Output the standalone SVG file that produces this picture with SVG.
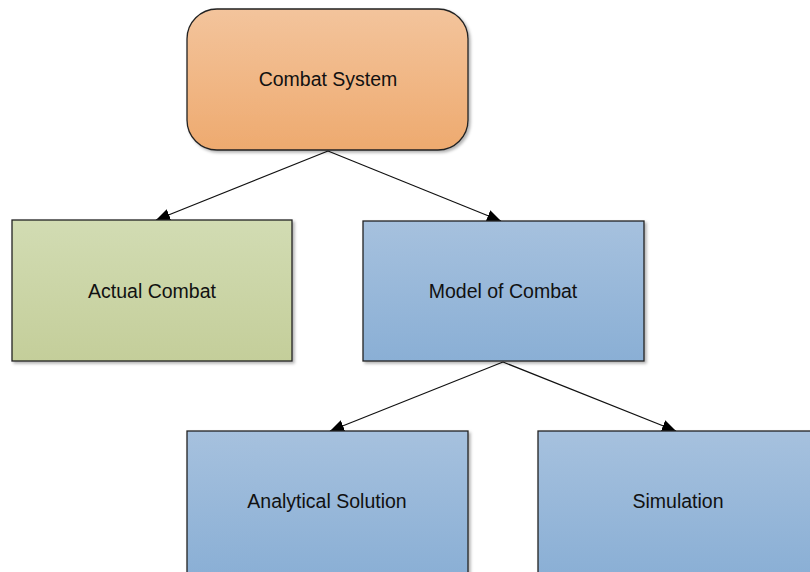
<svg xmlns="http://www.w3.org/2000/svg" width="810" height="572" viewBox="0 0 810 572">
<style>
.box{stroke:#222;stroke-width:1.3}
.lbl{font-family:"Liberation Sans",Arial,sans-serif;font-size:19.5px;fill:#111;text-anchor:middle;dominant-baseline:central}
.con{stroke:#111;stroke-width:1.2;fill:none;marker-end:url(#ah)}
</style>
<defs>
<linearGradient id="gO" x1="0" y1="0" x2="0" y2="1"><stop offset="0" stop-color="#f3c49c"/><stop offset="1" stop-color="#eeaa6f"/></linearGradient>
<linearGradient id="gG" x1="0" y1="0" x2="0" y2="1"><stop offset="0" stop-color="#d2dcb3"/><stop offset="1" stop-color="#c4ce9a"/></linearGradient>
<linearGradient id="gB" x1="0" y1="0" x2="0" y2="1"><stop offset="0" stop-color="#a6c1de"/><stop offset="1" stop-color="#8aafd5"/></linearGradient>
<filter id="sh" x="-5%" y="-5%" width="115%" height="115%"><feDropShadow dx="2" dy="2" stdDeviation="1.5" flood-color="#000" flood-opacity="0.3"/></filter>
<marker id="ah" viewBox="0 0 14 12" refX="14" refY="6" markerWidth="14" markerHeight="12" markerUnits="userSpaceOnUse" orient="auto"><path d="M0,0 L14,6 L0,12 Z" fill="#000"/></marker>
</defs>
<g id="connectors">
<line class="con" x1="328" y1="151" x2="156" y2="220"/>
<line class="con" x1="328" y1="151" x2="501" y2="221"/>
<line class="con" x1="503" y1="362" x2="330" y2="431"/>
<line class="con" x1="503" y1="362" x2="676" y2="431"/>
</g>
<g id="combat-system">
<rect class="box" x="187" y="9" width="281" height="141" rx="30" fill="url(#gO)" filter="url(#sh)"/>
<text class="lbl" x="328" y="79">Combat System</text>
</g>
<g id="actual-combat">
<rect class="box" x="12" y="220" width="280" height="141" fill="url(#gG)" filter="url(#sh)"/>
<text class="lbl" x="152" y="291">Actual Combat</text>
</g>
<g id="model-of-combat">
<rect class="box" x="363" y="221" width="281" height="140" fill="url(#gB)" filter="url(#sh)"/>
<text class="lbl" x="503" y="291">Model of Combat</text>
</g>
<g id="analytical-solution">
<rect class="box" x="187" y="431" width="281" height="145" fill="url(#gB)" filter="url(#sh)"/>
<text class="lbl" x="327" y="501">Analytical Solution</text>
</g>
<g id="simulation">
<rect class="box" x="538" y="431" width="280" height="145" fill="url(#gB)" filter="url(#sh)"/>
<text class="lbl" x="678" y="501">Simulation</text>
</g>
</svg>
